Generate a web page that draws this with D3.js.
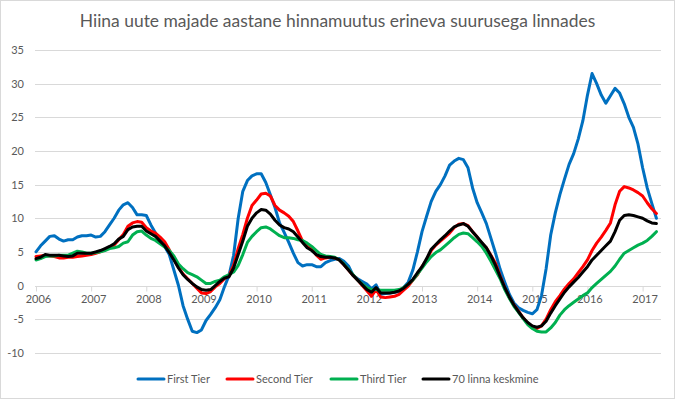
<!DOCTYPE html>
<html><head><meta charset="utf-8">
<script src="https://cdn.jsdelivr.net/npm/d3@7/dist/d3.min.js"></script>
<style>body{margin:0;background:#fff} svg{display:block}</style>
</head><body><svg id="c" width="675" height="399"></svg>
<script>
// Monthly data, Jan 2006 .. Apr 2017
const title = "Hiina uute majade aastane hinnamuutus erineva suurusega linnades";
const yearLabels = ["2006","2007","2008","2009","2010","2011","2012","2013","2014","2015","2016","2017"];
const yTicks = [-10,-5,0,5,10,15,20,25,30,35];
const seriesNames = ["First Tier","Second Tier","Third Tier","70 linna keskmine"];
const seriesColors = ["#0070C0","#FF0000","#00B050","#000000"];

const firstTier = [
 5.0,5.9,6.6,7.3,7.4,6.9,6.6,6.8,6.8,7.2,7.4,7.4,
 7.5,7.2,7.3,8.0,9.0,10.0,11.2,12.0,12.3,11.6,10.5,10.5,
 10.4,9.0,7.8,6.8,5.8,4.6,2.3,0.0,-3.0,-5.0,-6.8,-7.0,
 -6.6,-5.2,-4.3,-3.3,-2.1,-0.2,1.5,4.5,10.0,14.0,15.6,16.3,
 16.6,16.6,15.3,13.5,11.6,9.3,7.9,6.4,4.8,3.4,2.9,3.1,
 3.1,2.8,2.8,3.4,3.7,3.9,4.0,3.6,2.9,1.5,1.0,0.6,
 0.2,-0.5,0.1,-1.3,-1.2,-1.1,-1.0,-0.9,-0.3,0.5,2.3,5.0,
 8.0,10.3,12.5,14.0,15.0,16.3,17.9,18.5,18.9,18.7,17.5,14.5,
 12.3,10.8,9.2,7.0,4.8,2.4,0.5,-1.3,-2.6,-3.3,-3.7,-4.0,
 -4.2,-3.6,-1.5,2.5,7.5,10.8,13.5,15.8,18.0,19.6,21.8,24.5,
 28.3,31.5,30.0,28.3,27.1,28.2,29.3,28.6,27.0,25.0,23.5,21.0,
 17.5,14.5,12.2,10.0
];
const secondTier = [
 4.3,4.4,4.5,4.4,4.3,4.1,4.1,4.2,4.2,4.3,4.4,4.5,
 4.6,4.8,5.0,5.3,5.6,6.0,6.8,7.6,8.8,9.3,9.5,9.4,
 8.6,8.1,7.8,7.2,6.5,5.3,4.0,2.7,1.7,1.0,0.3,-0.4,
 -1.1,-1.2,-0.9,-0.2,0.3,1.0,1.5,3.0,5.5,7.6,10.0,11.9,
 12.7,13.6,13.7,13.3,11.9,11.2,10.8,10.3,9.5,8.1,6.6,5.8,
 5.5,4.5,3.9,4.1,4.2,4.1,3.8,3.1,2.3,1.5,0.8,0.0,
 -0.8,-1.6,-0.6,-1.7,-1.8,-1.7,-1.6,-1.3,-0.7,-0.1,0.8,1.6,
 2.8,3.8,5.2,6.0,6.6,7.2,7.8,8.6,9.1,9.2,8.9,8.0,
 7.2,6.3,5.6,4.5,3.3,1.4,-0.3,-1.8,-2.9,-3.8,-4.8,-5.6,
 -6.1,-6.4,-6.0,-5.0,-3.6,-2.4,-1.5,-0.5,0.3,1.0,1.9,2.8,
 3.8,5.2,6.3,7.2,8.2,9.3,12.0,14.0,14.7,14.5,14.2,13.8,
 13.3,12.3,11.4,10.7
];
const thirdTier = [
 3.8,4.0,4.3,4.4,4.4,4.5,4.5,4.5,4.8,5.1,5.0,4.8,
 4.8,4.9,5.0,5.2,5.5,5.6,5.8,6.3,6.5,7.5,8.0,8.1,
 7.5,7.0,6.7,6.2,5.7,5.2,4.4,3.2,2.5,1.9,1.6,1.3,
 0.8,0.3,0.3,0.6,0.8,1.3,1.6,2.0,3.0,4.6,6.4,7.3,
 8.0,8.6,8.7,8.4,7.9,7.4,7.1,7.1,7.0,6.8,6.7,6.3,
 5.8,5.2,4.6,4.4,4.3,4.2,3.8,3.2,2.4,1.6,0.8,0.2,
 -0.3,-0.6,-0.6,-0.7,-0.7,-0.7,-0.7,-0.6,-0.3,0.2,0.8,1.7,
 2.6,3.5,4.3,4.9,5.3,5.9,6.5,7.1,7.6,7.8,7.7,7.1,
 6.5,5.8,4.8,3.6,2.3,1.0,-0.6,-1.9,-3.1,-4.0,-4.9,-5.8,
 -6.4,-6.8,-6.9,-6.9,-6.3,-5.5,-4.4,-3.6,-3.0,-2.5,-2.0,-1.5,
 -1.1,-0.3,0.3,0.9,1.5,2.1,2.9,3.9,4.8,5.2,5.6,6.0,
 6.3,6.7,7.3,8.0
];
const avg70 = [
 4.0,4.2,4.6,4.5,4.5,4.5,4.4,4.3,4.4,4.8,4.8,4.8,
 4.8,5.0,5.2,5.5,5.8,6.2,6.9,7.3,8.3,8.7,8.8,8.8,
 8.1,7.7,7.3,6.6,5.9,4.9,3.8,2.6,1.6,0.9,0.3,-0.2,
 -0.6,-0.7,-0.6,0.0,0.6,1.1,1.3,2.6,4.6,6.6,8.8,10.0,
 10.8,11.3,11.2,10.6,9.7,9.0,8.6,8.4,8.0,7.2,6.4,5.6,
 5.2,4.6,4.3,4.2,4.2,4.1,3.8,3.1,2.3,1.5,0.8,0.1,
 -0.6,-1.0,-0.3,-1.1,-1.1,-1.1,-1.0,-0.8,-0.4,0.2,0.9,1.9,
 2.8,4.0,5.4,6.1,6.8,7.4,8.1,8.7,9.0,9.2,8.8,8.0,
 7.2,6.4,5.6,4.4,3.0,1.3,-0.3,-1.7,-2.9,-3.9,-4.8,-5.5,
 -6.0,-6.2,-6.0,-5.3,-4.1,-3.0,-2.0,-1.0,-0.2,0.5,1.2,2.0,
 2.8,3.8,4.5,5.2,5.9,6.6,8.0,9.7,10.4,10.5,10.4,10.2,
 10.0,9.6,9.3,9.2
];
const allSeries = [firstTier, secondTier, thirdTier, avg70];

const W = 675, H = 399;
const FONT = "Lato, 'Open Sans', sans-serif";
const TXT = "#595959";
const svg = d3.select("#c");

svg.append("rect").attr("x",0.5).attr("y",0.5).attr("width",W-1).attr("height",H-1)
  .attr("fill","#fff").attr("stroke","#d9d9d9");

const x = d3.scaleLinear().domain([0,136]).range([36,661]);
const y = d3.scaleLinear().domain([-10,35]).range([352.8,50]);

// gridlines
svg.append("g").selectAll("line").data(yTicks.filter(d=>d!==0)).join("line")
  .attr("x1",35).attr("x2",661)
  .attr("y1",d=>Math.round(y(d))+0.5).attr("y2",d=>Math.round(y(d))+0.5)
  .attr("stroke","#d9d9d9").attr("stroke-width",1);

// y labels
svg.append("g").selectAll("text").data(yTicks).join("text")
  .attr("x",24).attr("y",d=>Math.round(y(d))+0.5).attr("dy","0.35em")
  .attr("text-anchor","end").attr("font-family",FONT).attr("font-size",11)
  .attr("fill",TXT).text(d=>d);

// x axis at zero
const xAxis = d3.axisBottom(x)
  .tickValues(d3.range(0,yearLabels.length*12,12))
  .tickFormat((d,i)=>yearLabels[i]).tickSize(5).tickSizeOuter(0).tickPadding(4);
const gx = svg.append("g").attr("transform",`translate(0,${Math.round(y(0))+0.5})`).call(xAxis);
gx.select(".domain").attr("stroke","#d9d9d9").attr("d",`M35,0H661`);
gx.selectAll(".tick line").attr("stroke","#d9d9d9");
gx.selectAll(".tick text").attr("font-family",FONT).attr("font-size",11).attr("fill",TXT).attr("dx",2);

// lines
const line = d3.line().x((d,i)=>x(i)).y(d=>y(d));
svg.append("g").selectAll("path").data(allSeries).join("path")
  .attr("d",line).attr("fill","none")
  .attr("stroke",(d,i)=>seriesColors[i]).attr("stroke-width",3)
  .attr("stroke-linejoin","round").attr("stroke-linecap","round");

// title
const t = svg.append("text").attr("x",W/2).attr("y",27).attr("text-anchor","middle")
  .attr("font-family",FONT).attr("font-size",18).attr("fill",TXT).text(title);
const tw = t.node().getComputedTextLength();
if (tw > 516) t.attr("font-size", 18*516/tw);

// legend
const legX = [138,227,331,423];
const lg = svg.append("g").selectAll("g").data(seriesNames).join("g")
  .attr("transform",(d,i)=>`translate(${legX[i]},379)`);
lg.append("line").attr("x1",0).attr("x2",26).attr("y1",0).attr("y2",0)
  .attr("stroke",(d,i)=>seriesColors[i]).attr("stroke-width",3).attr("stroke-linecap","round");
lg.append("text").attr("x",29).attr("dy","0.35em").attr("font-family",FONT)
  .attr("font-size",11).attr("fill",TXT).text(d=>d);
</script></body></html>
